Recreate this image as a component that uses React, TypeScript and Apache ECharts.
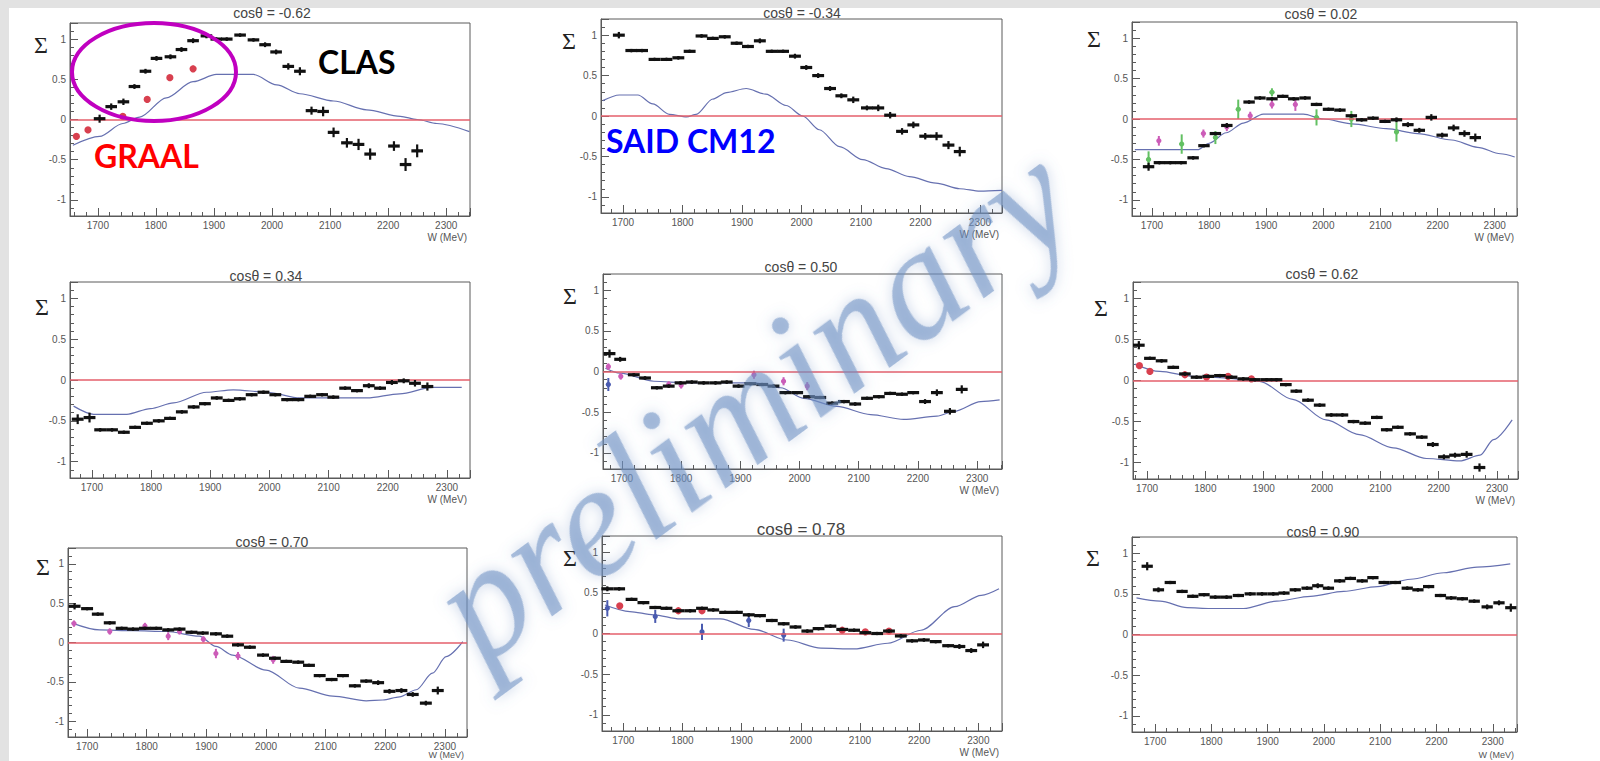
import React, { useEffect, useRef } from 'react';
import * as echarts from 'echarts';

// ---------- DATA ----------
const TITLES = ['cosθ = -0.62', 'cosθ = -0.34', 'cosθ = 0.02', 'cosθ = 0.34', 'cosθ = 0.50', 'cosθ = 0.62', 'cosθ = 0.70', 'cosθ = 0.78', 'cosθ = 0.90'];
const X_RANGES = [[1652, 2341], [1663, 2337], [1665, 2339], [1663, 2339], [1668, 2342], [1676, 2336], [1668, 2337], [1664, 2340], [1659, 2343]];
const Y_RANGE = [-1.2, 1.2];
const CLAS_HALF_BIN = 10;

// [W (MeV), Sigma, error]
const CLAS_1 = [[1703,0.01,0.05],[1723,0.16,0.04],[1744,0.22,0.04],[1763,0.41,0.03],[1782,0.60,0.03],[1801,0.76,0.03],[1825,0.78,0.03],[1844,0.87,0.03],[1864,0.98,0.03],[1887,1.04,0.03],[1904,1.0,0.02],[1922,1.0,0.02],[1945,1.05,0.02],[1968,0.99,0.02],[1988,0.93,0.03],[2007,0.84,0.03],[2028,0.66,0.04],[2048,0.60,0.05],[2068,0.11,0.05],[2088,0.10,0.06],[2106,-0.16,0.06],[2129,-0.29,0.06],[2149,-0.31,0.07],[2169,-0.43,0.07],[2210,-0.33,0.06],[2230,-0.56,0.08],[2250,-0.39,0.08]];
const GRAAL_1 = [[1663,-0.21,0.03],[1683,-0.13,0.03],[1743,0.04,0.03],[1785,0.25,0.03],[1824,0.52,0.03],[1864,0.63,0.04]];
const SAID_1 = [[1657,-0.32],[1703,-0.21],[1743,-0.05],[1772,0.03],[1818,0.27],[1864,0.47],[1904,0.56],[1968,0.56],[2008,0.43],[2048,0.32],[2106,0.23],[2163,0.12],[2221,0.04],[2250,0.0],[2284,-0.05],[2340,-0.15]];

const CLAS_2 = [[1693,1.0,0.04],[1714,0.81,0.02],[1732,0.81,0.02],[1753,0.70,0.02],[1773,0.70,0.02],[1793,0.72,0.02],[1812,0.80,0.02],[1832,0.99,0.02],[1851,0.96,0.02],[1871,0.98,0.02],[1891,0.90,0.02],[1910,0.86,0.02],[1930,0.93,0.03],[1950,0.80,0.02],[1969,0.80,0.02],[1989,0.74,0.03],[2008,0.60,0.03],[2028,0.50,0.03],[2048,0.34,0.03],[2067,0.25,0.03],[2087,0.20,0.04],[2110,0.10,0.03],[2129,0.10,0.04],[2149,0.01,0.04],[2169,-0.19,0.04],[2188,-0.11,0.04],[2208,-0.25,0.04],[2227,-0.25,0.05],[2247,-0.36,0.05],[2266,-0.44,0.06]];
const SAID_2 = [[1666,0.19],[1694,0.26],[1725,0.26],[1750,0.15],[1778,0.02],[1807,-0.01],[1823,0.02],[1851,0.21],[1874,0.29],[1907,0.34],[1940,0.27],[1974,0.13],[2002,0.0],[2030,-0.17],[2064,-0.38],[2103,-0.54],[2142,-0.65],[2181,-0.75],[2226,-0.83],[2266,-0.9],[2300,-0.93],[2337,-0.92]];

const CLAS_3 = [[1694,-0.59,0.05],[1713,-0.54,0.02],[1732,-0.54,0.02],[1751,-0.54,0.02],[1772,-0.48,0.02],[1791,-0.33,0.02],[1811,-0.18,0.02],[1831,-0.08,0.03],[1870,0.21,0.02],[1889,0.26,0.02],[1910,0.25,0.02],[1929,0.28,0.02],[1948,0.25,0.02],[1968,0.26,0.02],[1988,0.18,0.02],[2009,0.12,0.02],[2029,0.11,0.02],[2049,0.04,0.02],[2067,-0.01,0.02],[2087,0.01,0.02],[2108,-0.03,0.02],[2128,-0.01,0.03],[2148,-0.07,0.03],[2168,-0.14,0.03],[2189,0.02,0.04],[2208,-0.20,0.03],[2228,-0.11,0.04],[2247,-0.18,0.04],[2266,-0.23,0.05]];
const GREEN_3 = [[1694,-0.50,0.1],[1752,-0.31,0.12],[1811,-0.23,0.08],[1851,0.12,0.12],[1910,0.33,0.05],[1988,0.02,0.1],[2049,0.0,0.1],[2128,-0.16,0.12]];
const MAGENTA_3 = [[1712,-0.27,0.06],[1790,-0.18,0.05],[1831,-0.10,0.05],[1872,0.04,0.05],[1910,0.18,0.05],[1951,0.18,0.08]];
const SAID_3 = [[1670,-0.38],[1780,-0.38],[1800,-0.30],[1830,-0.17],[1860,-0.05],[1895,0.06],[1965,0.06],[2000,0.0],[2050,-0.06],[2110,-0.12],[2165,-0.18],[2225,-0.26],[2270,-0.35],[2310,-0.43],[2335,-0.47]];

const CLAS_4 = [[1676,-0.48,0.06],[1696,-0.46,0.06],[1714,-0.61,0.02],[1734,-0.61,0.02],[1754,-0.64,0.02],[1773,-0.58,0.02],[1793,-0.53,0.02],[1813,-0.50,0.02],[1832,-0.47,0.02],[1852,-0.39,0.02],[1872,-0.33,0.02],[1891,-0.29,0.02],[1911,-0.22,0.02],[1931,-0.25,0.02],[1950,-0.23,0.02],[1970,-0.18,0.02],[1990,-0.15,0.02],[2010,-0.18,0.02],[2030,-0.24,0.02],[2049,-0.24,0.02],[2069,-0.20,0.02],[2089,-0.18,0.02],[2108,-0.21,0.02],[2128,-0.10,0.02],[2148,-0.13,0.02],[2168,-0.07,0.03],[2187,-0.10,0.02],[2207,-0.03,0.03],[2227,-0.01,0.03],[2246,-0.04,0.04],[2267,-0.08,0.05]];
const SAID_4 = [[1669,-0.32],[1703,-0.42],[1759,-0.42],[1799,-0.35],[1838,-0.28],[1894,-0.15],[1939,-0.12],[1996,-0.15],[2052,-0.22],[2108,-0.22],[2165,-0.22],[2220,-0.17],[2276,-0.09],[2325,-0.09]];

const CLAS_5 = [[1679,0.22,0.05],[1697,0.15,0.03],[1720,-0.04,0.02],[1739,-0.08,0.02],[1759,-0.20,0.02],[1779,-0.18,0.02],[1799,-0.14,0.02],[1818,-0.13,0.02],[1838,-0.14,0.02],[1858,-0.14,0.02],[1877,-0.13,0.02],[1897,-0.18,0.02],[1917,-0.15,0.02],[1937,-0.16,0.02],[1956,-0.18,0.02],[1976,-0.26,0.02],[1996,-0.26,0.02],[2016,-0.31,0.02],[2035,-0.32,0.02],[2055,-0.39,0.02],[2075,-0.37,0.02],[2094,-0.40,0.02],[2114,-0.33,0.02],[2134,-0.31,0.02],[2153,-0.27,0.02],[2173,-0.28,0.02],[2192,-0.26,0.02],[2212,-0.37,0.03],[2232,-0.26,0.04],[2254,-0.49,0.04],[2274,-0.22,0.05]];
const MAGENTA_5 = [[1677,0.06,0.04],[1698,-0.06,0.04],[1779,-0.16,0.04],[1800,-0.17,0.04],[1923,-0.04,0.05],[1973,-0.12,0.05],[2013,-0.18,0.05]];
const BLUE_5 = [[1677,-0.16,0.08]];
const SAID_5 = [[1672,0.04],[1697,-0.02],[1754,-0.12],[1810,-0.14],[1866,-0.14],[1923,-0.14],[1968,-0.2],[2007,-0.33],[2063,-0.43],[2120,-0.53],[2176,-0.59],[2232,-0.55],[2261,-0.49],[2306,-0.37],[2338,-0.35]];

const CLAS_6 = [[1686,0.43,0.05],[1705,0.27,0.02],[1725,0.24,0.02],[1745,0.16,0.02],[1765,0.08,0.02],[1785,0.04,0.02],[1805,0.05,0.02],[1825,0.06,0.02],[1845,0.04,0.02],[1865,0.02,0.02],[1885,0.01,0.02],[1905,0.01,0.02],[1922,0.01,0.02],[1938,-0.05,0.02],[1956,-0.13,0.02],[1976,-0.24,0.02],[1996,-0.30,0.02],[2016,-0.42,0.02],[2035,-0.42,0.02],[2054,-0.50,0.02],[2074,-0.52,0.02],[2094,-0.45,0.02],[2111,-0.60,0.02],[2130,-0.57,0.02],[2151,-0.65,0.02],[2171,-0.69,0.02],[2190,-0.78,0.03],[2209,-0.93,0.03],[2228,-0.91,0.03],[2248,-0.90,0.04],[2270,-1.06,0.05]];
const GRAAL_6 = [[1687,0.18,0.03],[1705,0.11,0.03],[1765,0.07,0.02],[1802,0.04,0.02],[1839,0.05,0.02],[1879,0.02,0.02]];
const SAID_6 = [[1679,0.2],[1722,0.11],[1779,0.05],[1836,0.03],[1893,-0.01],[1950,-0.23],[2007,-0.48],[2064,-0.66],[2122,-0.82],[2179,-0.95],[2236,-0.98],[2271,-0.91],[2294,-0.72],[2326,-0.48]];

const CLAS_7 = [[1679,0.46,0.04],[1700,0.43,0.02],[1718,0.36,0.02],[1738,0.25,0.02],[1758,0.18,0.02],[1777,0.17,0.02],[1797,0.18,0.02],[1816,0.18,0.02],[1836,0.16,0.02],[1855,0.17,0.02],[1875,0.13,0.02],[1894,0.12,0.02],[1916,0.11,0.02],[1935,0.08,0.02],[1953,-0.03,0.02],[1973,-0.06,0.02],[1995,-0.16,0.02],[2015,-0.20,0.02],[2034,-0.24,0.02],[2054,-0.25,0.02],[2072,-0.29,0.02],[2090,-0.42,0.02],[2110,-0.47,0.02],[2129,-0.42,0.02],[2149,-0.55,0.02],[2168,-0.49,0.02],[2188,-0.51,0.03],[2207,-0.62,0.03],[2227,-0.61,0.03],[2246,-0.66,0.03],[2268,-0.77,0.03],[2288,-0.61,0.05]];
const MAGENTA_7 = [[1678,0.24,0.04],[1738,0.14,0.04],[1797,0.21,0.04],[1836,0.08,0.05],[1855,0.14,0.04],[1895,0.04,0.04],[1916,-0.14,0.06],[1953,-0.17,0.05],[2012,-0.22,0.05]];
const SAID_7 = [[1674,0.25],[1721,0.16],[1777,0.15],[1833,0.14],[1888,0.08],[1916,-0.05],[1944,-0.16],[2000,-0.35],[2056,-0.58],[2112,-0.68],[2168,-0.74],[2196,-0.73],[2224,-0.69],[2252,-0.6],[2279,-0.39],[2302,-0.18],[2330,0.01]];

const CLAS_8 = [[1673,0.55,0.03],[1693,0.55,0.02],[1714,0.42,0.02],[1734,0.38,0.02],[1754,0.32,0.02],[1773,0.31,0.02],[1793,0.28,0.02],[1813,0.28,0.02],[1833,0.31,0.02],[1852,0.29,0.02],[1872,0.26,0.02],[1892,0.26,0.02],[1912,0.23,0.02],[1931,0.22,0.02],[1951,0.16,0.02],[1971,0.12,0.02],[1991,0.08,0.02],[2011,0.03,0.02],[2030,0.06,0.02],[2050,0.09,0.02],[2070,0.05,0.02],[2090,0.04,0.02],[2109,0.01,0.02],[2129,0.0,0.02],[2149,0.03,0.02],[2169,-0.03,0.02],[2188,-0.09,0.02],[2208,-0.08,0.02],[2228,-0.10,0.02],[2249,-0.15,0.02],[2268,-0.16,0.03],[2288,-0.21,0.03],[2308,-0.14,0.04]];
const GRAAL_8 = [[1694,0.34,0.03],[1793,0.28,0.03],[1833,0.28,0.03],[2070,0.04,0.02],[2109,0.02,0.02],[2149,0.03,0.02]];
const BLUE_8 = [[1673,0.31,0.1],[1754,0.21,0.08],[1833,0.02,0.1],[1912,0.16,0.08],[1971,-0.02,0.08]];
const SAID_8 = [[1669,0.35],[1711,0.27],[1751,0.23],[1796,0.18],[1864,0.18],[1921,0.05],[1977,-0.08],[2034,-0.18],[2090,-0.19],[2147,-0.12],[2203,0.04],[2260,0.33],[2305,0.47],[2335,0.55]];

const CLAS_9 = [[1686,0.84,0.05],[1706,0.55,0.03],[1727,0.64,0.02],[1748,0.53,0.02],[1767,0.47,0.02],[1787,0.49,0.02],[1807,0.46,0.02],[1827,0.46,0.02],[1848,0.48,0.02],[1869,0.50,0.02],[1890,0.50,0.02],[1910,0.50,0.02],[1929,0.51,0.02],[1949,0.55,0.02],[1970,0.57,0.02],[1989,0.60,0.03],[2008,0.57,0.02],[2028,0.66,0.02],[2047,0.69,0.02],[2068,0.66,0.02],[2087,0.70,0.02],[2107,0.64,0.02],[2127,0.64,0.02],[2148,0.57,0.02],[2167,0.55,0.02],[2186,0.59,0.02],[2207,0.48,0.02],[2226,0.45,0.02],[2246,0.44,0.02],[2267,0.41,0.02],[2290,0.34,0.03],[2311,0.39,0.03],[2332,0.33,0.05]];
const SAID_9 = [[1667,0.45],[1709,0.41],[1757,0.33],[1798,0.32],[1857,0.32],[1916,0.41],[1976,0.47],[2035,0.53],[2095,0.59],[2154,0.68],[2213,0.76],[2272,0.83],[2331,0.87]];

const PANELS = [
  { clas: CLAS_1, said: SAID_1, extra: [{ data: GRAAL_1, kind: 'graal' }] },
  { clas: CLAS_2, said: SAID_2, extra: [] },
  { clas: CLAS_3, said: SAID_3, extra: [{ data: GREEN_3, kind: 'green' }, { data: MAGENTA_3, kind: 'magenta' }] },
  { clas: CLAS_4, said: SAID_4, extra: [] },
  { clas: CLAS_5, said: SAID_5, extra: [{ data: MAGENTA_5, kind: 'magenta' }, { data: BLUE_5, kind: 'blue' }] },
  { clas: CLAS_6, said: SAID_6, extra: [{ data: GRAAL_6, kind: 'graal' }] },
  { clas: CLAS_7, said: SAID_7, extra: [{ data: MAGENTA_7, kind: 'magenta' }] },
  { clas: CLAS_8, said: SAID_8, extra: [{ data: GRAAL_8, kind: 'graal' }, { data: BLUE_8, kind: 'blue' }] },
  { clas: CLAS_9, said: SAID_9, extra: [] },
];

// ---------- LAYOUT ----------
// plot frame [left, top, right, bottom]
const BOXES = [
  [70, 23, 470, 216], [601, 19, 1002, 213], [1132, 22, 1517, 216],
  [70, 282, 470, 478], [603, 274, 1002, 469], [1133, 282, 1518, 479],
  [68, 548, 467, 737], [602, 536, 1002, 731], [1132, 537, 1517, 732],
];
const TITLE_POS = [[272, 13, 14], [802, 13, 14], [1321, 14, 14], [266, 276, 14], [801, 267, 14], [1322, 274, 14], [272, 542, 14], [801, 529, 17], [1323, 532, 14]];
const SIGMA_POS = [[41, 45], [569, 41], [1094, 39], [42, 307], [570, 296], [1101, 308], [43, 567], [570, 558], [1093, 558]];

const STYLE: Record<string, any> = {
  clas: { color: '#111111', halfW: CLAS_HALF_BIN, hLine: 3.2, vLine: 2.2, marker: 1.6 },
  graal: { color: '#d8404f', halfW: 0, hLine: 0, vLine: 1.5, marker: 3.6 },
  magenta: { color: '#cc5cb8', halfW: 3, hLine: 2, vLine: 2, marker: 2.6 },
  green: { color: '#62c062', halfW: 4, hLine: 2, vLine: 2, marker: 2.6 },
  blue: { color: '#4a5bb0', halfW: 3, hLine: 2, vLine: 2, marker: 2.6 },
};

function makeRender(st: any) {
  return (params: any, api: any) => {
    const w = api.value(0), s = api.value(1), e = api.value(2);
    const c = api.coord([w, s]);
    const t = api.coord([w, s + e]);
    const b = api.coord([w, s - e]);
    const children: any[] = [];
    if (st.halfW > 0) {
      const l = api.coord([w - st.halfW, s]);
      const r = api.coord([w + st.halfW, s]);
      children.push({ type: 'line', shape: { x1: l[0], y1: l[1], x2: r[0], y2: r[1] }, style: { stroke: st.color, lineWidth: st.hLine } });
    }
    children.push({ type: 'line', shape: { x1: t[0], y1: t[1], x2: b[0], y2: b[1] }, style: { stroke: st.color, lineWidth: st.vLine } });
    if (st.marker > 0) children.push({ type: 'circle', shape: { cx: c[0], cy: c[1], r: st.marker }, style: { fill: st.color } });
    return { type: 'group', children };
  };
}

const AX = '#5a5a5a';

function buildOption() {
  const grid: any[] = [], xAxis: any[] = [], yAxis: any[] = [], series: any[] = [];
  const graphic: any[] = [
    { type: 'rect', z: -100, shape: { x: 0, y: 0, width: 1600, height: 8 }, style: { fill: '#e2e2e2' } },
    { type: 'rect', z: -100, shape: { x: 0, y: 0, width: 9, height: 761 }, style: { fill: '#e2e2e2' } },
  ];
  PANELS.forEach((p, i) => {
    const [l, t, r, b] = BOXES[i];
    grid.push({ left: l, top: t, width: r - l, height: b - t, show: true, borderColor: AX, borderWidth: 1, backgroundColor: 'transparent' });
    xAxis.push({
      type: 'value', gridIndex: i, min: X_RANGES[i][0], max: X_RANGES[i][1], splitNumber: 7,
      axisLine: { show: true, onZero: false, lineStyle: { color: AX } },
      axisTick: { show: true, inside: true, length: 8, lineStyle: { color: AX } },
      minorTick: { show: true, splitNumber: 5, length: 4, lineStyle: { color: AX } },
      splitLine: { show: false },
      axisLabel: { fontSize: 10, color: '#555', margin: 4, showMinLabel: false, showMaxLabel: false, fontFamily: 'Liberation Sans', formatter: (v: number) => String(Math.round(v)) },
    });
    yAxis.push({
      type: 'value', gridIndex: i, min: Y_RANGE[0], max: Y_RANGE[1], splitNumber: 5,
      axisLine: { show: true, onZero: false, lineStyle: { color: AX } },
      axisTick: { show: true, inside: true, length: 8, lineStyle: { color: AX } },
      minorTick: { show: true, splitNumber: 5, length: 4, lineStyle: { color: AX } },
      splitLine: { show: false },
      axisLabel: { fontSize: 10, color: '#555', margin: 4, showMinLabel: false, showMaxLabel: false, fontFamily: 'Liberation Sans' },
    });
    series.push({
      type: 'line', xAxisIndex: i, yAxisIndex: i, data: p.said, smooth: 0.3, smoothMonotone: 'x',
      symbol: 'none', showSymbol: false, lineStyle: { color: '#6670b0', width: 1.2 }, z: 3, silent: true,
      markLine: { silent: true, symbol: ['none', 'none'], label: { show: false }, lineStyle: { color: '#e45f6b', width: 1.6, type: 'solid' }, data: [{ yAxis: 0 }] },
    });
    p.extra.forEach((ex: any) => {
      series.push({ type: 'custom', xAxisIndex: i, yAxisIndex: i, data: ex.data, encode: { x: 0, y: 1 }, renderItem: makeRender(STYLE[ex.kind]), z: 4, silent: true });
    });
    series.push({ type: 'custom', xAxisIndex: i, yAxisIndex: i, data: p.clas, encode: { x: 0, y: 1 }, renderItem: makeRender(STYLE.clas), z: 5, silent: true });

    const [tx, ty, tf] = TITLE_POS[i];
    graphic.push({ type: 'text', x: tx, y: ty, z: 10, style: { text: TITLES[i], fontSize: tf, fontFamily: 'Liberation Sans', fill: '#444', align: 'center', verticalAlign: 'middle', textAlign: 'center', textVerticalAlign: 'middle' } });
    const [sx, sy] = SIGMA_POS[i];
    graphic.push({ type: 'text', x: sx, y: sy, z: 10, style: { text: 'Σ', fontSize: 24, fontFamily: 'Liberation Serif', fill: '#222', align: 'center', verticalAlign: 'middle', textAlign: 'center', textVerticalAlign: 'middle' } });
    const low = b + 21 > 752;
    graphic.push({ type: 'text', x: r - 3, y: low ? 755 : b + 21, z: 10, style: { text: 'W (MeV)', fontSize: low ? 9 : 10, fontFamily: 'Liberation Sans', fill: '#555', align: 'right', verticalAlign: 'middle', textAlign: 'right', textVerticalAlign: 'middle' } });
  });

  // annotations
  graphic.push({ type: 'ellipse', z: 20, shape: { cx: 154, cy: 72, rx: 82, ry: 49 }, style: { fill: 'none', stroke: '#c000c0', lineWidth: 4 } });
  const ann = (text: string, x: number, y: number, color: string) => ({
    type: 'text', x, y, z: 20,
    style: { text, fontSize: 32, fontWeight: 'bold', fontFamily: 'Lato', fill: color, align: 'left', verticalAlign: 'middle', textAlign: 'left', textVerticalAlign: 'middle' },
  });
  graphic.push(ann('CLAS', 318, 61, '#000000'));
  graphic.push(ann('GRAAL', 94, 155, '#ff0000'));
  graphic.push(ann('SAID CM12', 606, 140, '#0000ff'));

  // watermark
  graphic.push({
    type: 'text', x: 752, y: 402, rotation: (36.4 * Math.PI) / 180, z: 50, silent: true,
    style: {
      text: 'preliminary', fontSize: 160, fontStyle: 'italic', fontFamily: 'Liberation Serif',
      fill: 'rgba(112,146,196,0.58)', align: 'center', verticalAlign: 'middle', textAlign: 'center', textVerticalAlign: 'middle',
      textShadowColor: 'rgba(90,125,185,0.55)', textShadowBlur: 14,
    },
  });

  return { animation: false, backgroundColor: '#ffffff', grid, xAxis, yAxis, series, graphic };
}

export default function App() {
  const ref = useRef<HTMLDivElement>(null);
  useEffect(() => {
    if (!ref.current) return;
    const chart = echarts.init(ref.current, undefined, { renderer: 'svg' });
    chart.setOption(buildOption() as any);
    return () => chart.dispose();
  }, []);
  return <div ref={ref} style={{ position: 'fixed', left: 0, top: 0, width: 1600, height: 761 }} />;
}
